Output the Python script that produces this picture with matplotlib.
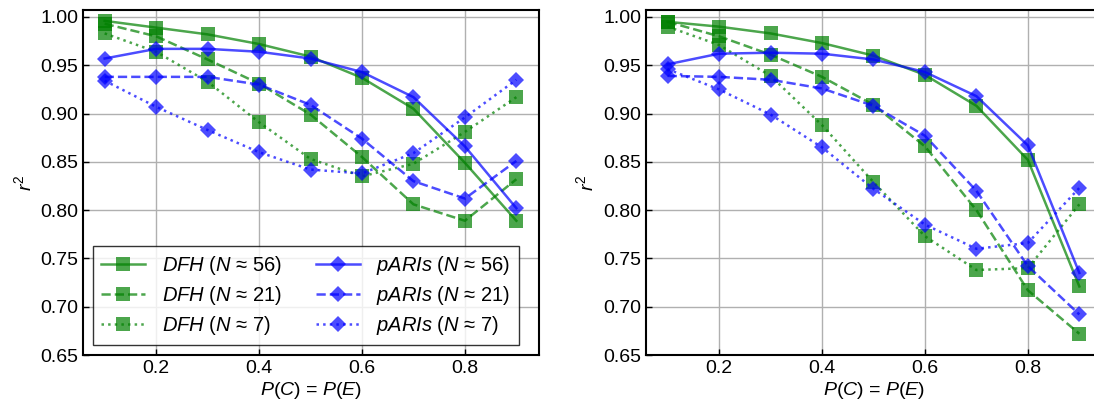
import matplotlib
matplotlib.use('Agg')
import matplotlib.pyplot as plt

plt.rcParams['font.family'] = ['Liberation Sans', 'DejaVu Sans']
plt.rcParams['mathtext.fontset'] = 'custom'
plt.rcParams['mathtext.rm'] = 'Liberation Sans'
plt.rcParams['mathtext.it'] = 'Liberation Sans:italic'
plt.rcParams['font.size'] = 14

p = [0.1, 0.2, 0.3, 0.4, 0.5, 0.6, 0.7, 0.8, 0.9]
sizes = [56, 21, 7]

# left panel
dfh_left_56 = [0.996, 0.989, 0.982, 0.972, 0.959, 0.937, 0.905, 0.849, 0.789]
dfh_left_21 = [0.993, 0.980, 0.956, 0.931, 0.899, 0.855, 0.806, 0.789, 0.832]
dfh_left_7 = [0.983, 0.964, 0.933, 0.891, 0.853, 0.835, 0.848, 0.881, 0.917]
paris_left_56 = [0.957, 0.967, 0.967, 0.964, 0.957, 0.943, 0.917, 0.866, 0.802]
paris_left_21 = [0.938, 0.938, 0.938, 0.930, 0.909, 0.874, 0.830, 0.812, 0.851]
paris_left_7 = [0.934, 0.907, 0.883, 0.860, 0.842, 0.838, 0.859, 0.896, 0.935]

# right panel
dfh_right_56 = [0.995, 0.990, 0.983, 0.973, 0.960, 0.940, 0.908, 0.852, 0.721]
dfh_right_21 = [0.995, 0.980, 0.961, 0.938, 0.909, 0.866, 0.800, 0.717, 0.672]
dfh_right_7 = [0.990, 0.971, 0.939, 0.888, 0.829, 0.773, 0.738, 0.740, 0.806]
paris_right_56 = [0.951, 0.962, 0.963, 0.962, 0.956, 0.943, 0.918, 0.867, 0.735]
paris_right_21 = [0.939, 0.938, 0.935, 0.926, 0.908, 0.877, 0.820, 0.742, 0.692]
paris_right_7 = [0.946, 0.925, 0.899, 0.865, 0.822, 0.785, 0.760, 0.766, 0.823]

styles = ['-', '--', ':']

fig = plt.figure(figsize=(10.94, 4.03), dpi=100)
ax1 = fig.add_axes([0.0759, 0.1191, 0.4168, 0.856])
ax2 = fig.add_axes([0.5905, 0.1191, 0.4168, 0.856])

panels = [
    (ax1, [dfh_left_56, dfh_left_21, dfh_left_7], [paris_left_56, paris_left_21, paris_left_7]),
    (ax2, [dfh_right_56, dfh_right_21, dfh_right_7], [paris_right_56, paris_right_21, paris_right_7]),
]

for ax, dfh, paris in panels:
    for vals, ls, n in zip(dfh, styles, sizes):
        ax.plot(p, vals, ls, color='green', marker='s', ms=9.5, mew=0, lw=1.8, alpha=0.7,
                label=r'$DFH$ ($N$ ≈ %d)' % n)
    for vals, ls, n in zip(paris, styles, sizes):
        ax.plot(p, vals, ls, color='blue', marker='D', ms=8.5, mew=0, lw=1.8, alpha=0.7,
                label=r'$pARIs$ ($N$ ≈ %d)' % n)
    ax.set_xlim(0.058, 0.944)
    ax.set_ylim(0.65, 1.0072)
    ax.set_xticks([0.2, 0.4, 0.6, 0.8])
    ax.set_yticks([0.65, 0.70, 0.75, 0.80, 0.85, 0.90, 0.95, 1.00])
    ax.set_yticklabels(['%.2f' % v for v in ax.get_yticks()])
    ax.grid(True, color='#b0b0b0', lw=1)
    ax.set_axisbelow(True)
    ax.tick_params(direction='in', length=4, width=1)
    for s in ax.spines.values():
        s.set_linewidth(1.5)
    ax.set_xlabel(r'$P(C)$ = $P(E)$', labelpad=2)
    ax.set_ylabel(r'$r^2$')

ax1.legend(loc='lower left', ncol=2, fancybox=False, edgecolor='black',
           handlelength=2.2, columnspacing=1.7, labelspacing=0.35,
           prop={'size': 14.5})

fig.savefig('out.png', dpi=100)
